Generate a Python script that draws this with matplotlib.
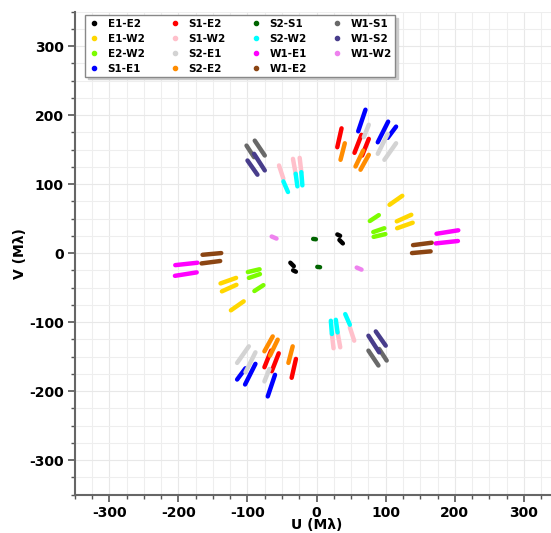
import matplotlib
matplotlib.use("Agg")
import matplotlib.pyplot as plt
from matplotlib.lines import Line2D
from matplotlib.ticker import MultipleLocator

# baselines in legend order (4 columns of 4 rows)
baselines = ["E1-E2", "E1-W2", "E2-W2", "S1-E1",
             "S1-E2", "S1-W2", "S2-E1", "S2-E2",
             "S2-S1", "S2-W2", "W1-E1", "W1-E2",
             "W1-S1", "W1-S2", "W1-W2"]
colors = ["black", "gold", "lawngreen", "blue",
          "red", "pink", "lightgray", "darkorange",
          "darkgreen", "cyan", "magenta", "saddlebrown",
          "dimgray", "darkslateblue", "violet"]

# uv tracks (u1, v1, u2, v2) in Mlambda; the conjugate (-u, -v) is plotted too
E1_E2 = [(30, 27, 34, 25), (33, 19, 38, 14)]
E1_W2 = [(105.5, 70, 124, 83), (116, 46, 137, 55.5), (116.5, 36, 139, 44)]
E2_W2 = [(77, 46.5, 90, 55), (82, 30.5, 98, 36), (82.5, 23.5, 99.5, 27.5)]
S1_E1 = [(70.7, 207.8, 60.2, 176.5), (103.5, 190.5, 88.5, 160.6), (115, 183.3, 102.9, 167)]
S1_E2 = [(36.1, 180.8, 29.9, 153.4), (64.9, 171.3, 54.8, 145.3), (75.5, 165.5, 65.9, 141.4)]
S1_W2 = [(-54.4, 127, -48.1, 107.8), (-34.2, 136.6, -30.3, 115), (-24.5, 138, -22.1, 117.3)]
S2_E1 = [(75.5, 186, 68.3, 168), (102.9, 172.7, 88.5, 143.9), (115, 159.2, 98.1, 135.2)]
S2_E2 = [(40.8, 159.2, 34.6, 135.2), (67.4, 148.6, 56.3, 125.5), (75.5, 142.4, 63.5, 120.8)]
S2_S1 = [(-5, 20.5, -1, 20)]
S2_W2 = [(-48.1, 103.9, -41.4, 88.5), (-30.3, 115, -27.8, 96.7), (-22.1, 117.3, -20.6, 98.1)]
W1_E1 = [(172.5, 14, 204.5, 17.5), (173.5, 28, 205, 33)]
W1_E2 = [(138, 0, 165, 2.5), (139.5, 11.5, 166.5, 15)]
W1_S1 = [(-101.4, 155.8, -90.5, 139), (-89.5, 163, -75, 141.4)]
W1_S2 = [(-100, 134.2, -85.6, 113.6), (-90.5, 143.9, -75, 119.8)]
W1_W2 = [(-65, 24, -58, 21)]

tracks = [E1_E2, E1_W2, E2_W2, S1_E1, S1_E2, S1_W2, S2_E1, S2_E2,
          S2_S1, S2_W2, W1_E1, W1_E2, W1_S1, W1_S2, W1_W2]

plt.rcParams["font.family"] = "DejaVu Sans"
plt.rcParams["font.weight"] = "bold"
plt.rcParams["axes.unicode_minus"] = False

fig = plt.figure(figsize=(5.51, 5.33), dpi=100)
ax = fig.add_axes([0.1356, 0.0722, 0.878, 0.906])

for segs, c in zip(tracks, colors):
    for u1, v1, u2, v2 in segs:
        ax.plot([u1, u2], [v1, v2], c=c, lw=3.2, solid_capstyle="round", zorder=3)
        ax.plot([-u1, -u2], [-v1, -v2], c=c, lw=3.2, solid_capstyle="round", zorder=3)

ax.set_xlim(-350, 350)
ax.set_ylim(-350, 350)
for axis in (ax.xaxis, ax.yaxis):
    axis.set_major_locator(MultipleLocator(100))
    axis.set_minor_locator(MultipleLocator(25))

ax.grid(which="major", c="#E8E8E8", lw=0.8)
ax.grid(which="minor", c="#EEEEEE", lw=0.8)
ax.set_axisbelow(True)

for side in ("top", "right"):
    ax.spines[side].set_visible(False)
for side in ("left", "bottom"):
    ax.spines[side].set_color("#666666")
    ax.spines[side].set_linewidth(1.5)

ax.tick_params(which="major", length=5, width=1.2, color="#555555", labelsize=10, pad=3)
ax.tick_params(which="minor", length=3, width=1.0, color="#555555")
for lab in ax.get_xticklabels() + ax.get_yticklabels():
    lab.set_fontweight("bold")

ax.set_xlabel("U (Mλ)", fontsize=10, fontweight="bold", labelpad=-1)
ax.set_ylabel("V (Mλ)", fontsize=10, fontweight="bold", labelpad=1)

handles = [Line2D([], [], marker="o", ls="", ms=3, color=c) for c in colors]
leg = ax.legend(handles, baselines, loc="upper left", ncol=4,
                prop={"weight": "bold", "size": 7.5}, handlelength=1.2,
                handletextpad=0.7, columnspacing=2.3, labelspacing=0.48,
                borderpad=0.3, bbox_to_anchor=(0.01, 1.003),
                fancybox=False, shadow={"color": "#cccccc", "alpha": 1},
                framealpha=1)
leg.get_frame().set_edgecolor("#888888")

fig.savefig("out.png", dpi=100)
